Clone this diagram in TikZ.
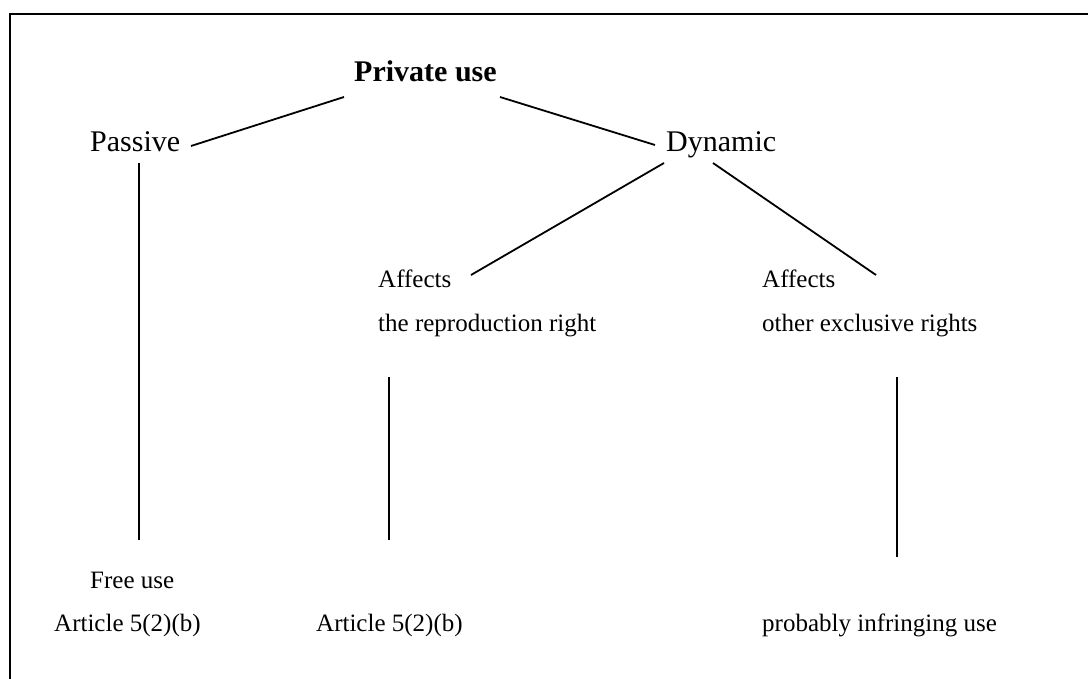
\documentclass[tikz,border=0pt]{standalone}
\usepackage{fontspec}
\setmainfont{Liberation Serif}
\begin{document}
\begin{tikzpicture}[x=1pt,y=-1pt,
  big/.style={font=\fontsize{30}{36}\selectfont,inner sep=0pt,anchor=base west},
  small/.style={font=\fontsize{25}{30}\selectfont,inner sep=0pt,anchor=base west},
  conn/.style={line width=1.8pt},
  frame/.style={line width=2.4pt}]
\useasboundingbox (0,0) rectangle (1088,679);
% frame
\coordinate (ftr) at (1090,14);
\coordinate (ftl) at (10,14);
\coordinate (fbl) at (10,681);
\draw[frame] (ftr) -- (ftl) -- (fbl);
% texts
\node[big,font=\fontsize{30}{36}\selectfont\bfseries] (priv) at (354,82) {Private use};
\node[big] (pass) at (90,152) {Passive};
\node[big] (dyn) at (666,152) {Dynamic};
\node[small] (aff1) at (378,288) {Affects};
\node[small] (rep) at (378,332) {the reproduction right};
\node[small] (aff2) at (762,288) {Affects};
\node[small] (oth) at (762,332) {other exclusive rights};
\node[small] (free) at (90,588) {Free use};
\node[small] (art1) at (54,631) {Article 5(2)(b)};
\node[small] (art2) at (316,631) {Article 5(2)(b)};
\node[small] (prob) at (762,631) {probably infringing use};
% connector ends
\coordinate (privL) at (344,97);
\coordinate (privR) at (500,97);
\coordinate (passR) at (191,146);
\coordinate (passB) at (139,163);
\coordinate (passE) at (139,540);
\coordinate (dynL) at (655,145);
\coordinate (dynBL) at (664,163);
\coordinate (dynBR) at (713,163);
\coordinate (aff1T) at (471,275);
\coordinate (aff2T) at (876,275);
\coordinate (repB) at (389,377);
\coordinate (repE) at (389,540);
\coordinate (othB) at (897,377);
\coordinate (othE) at (897,557);
\draw[conn] (privL) -- (passR);
\draw[conn] (privR) -- (dynL);
\draw[conn] (passB) -- (passE);
\draw[conn] (dynBL) -- (aff1T);
\draw[conn] (dynBR) -- (aff2T);
\draw[conn] (repB) -- (repE);
\draw[conn] (othB) -- (othE);
\end{tikzpicture}
\end{document}
